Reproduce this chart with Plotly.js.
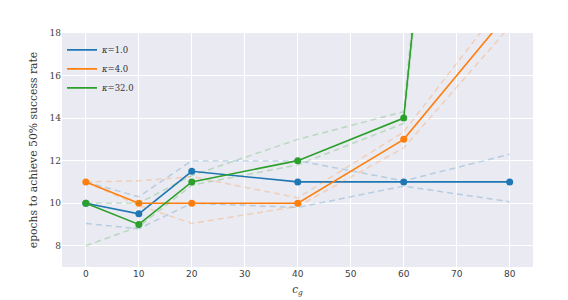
<!DOCTYPE html>
<html>
<head>
<meta charset="utf-8">
<script src="https://cdn.plot.ly/plotly-3.0.1.min.js"></script>
<style>html,body{margin:0;padding:0;background:#fff;}#chart{width:568px;height:300px;}</style>
</head>
<body>
<div id="chart"></div>
<script>
const cg = [0, 10, 20, 40, 60, 80];

const k1Mean  = [10, 9.5, 11.5, 11, 11, 11];
const k1Upper = [11, 10.3, 12, 12, 11.05, 12.3];
const k1Lower = [9.05, 8.8, 10.0, 9.8, 10.8, 10.07];

const k4Mean  = [11, 10, 10, 10, 13, 19];
const k4Upper = [11, 11.05, 11.25, 10.25, 13.35, 19.8];
const k4Lower = [11, 9.9, 9.05, 9.85, 12.6, 18.3];

const k32Mean  = [10, 9, 11, 12, 14, 64];
const k32Upper = [10, 10, 11.3, 13, 14.3, 66];
const k32Lower = [8, 8.9, 10.85, 11.8, 13.75, 62];

const labels = ['<i>κ</i>=1.0', '<i>κ</i>=4.0', '<i>κ</i>=32.0'];
const colors = ['#1f77b4', '#ff7f0e', '#2ca02c'];
const fades  = ['rgba(31,119,180,0.25)', 'rgba(255,127,14,0.25)', 'rgba(44,160,44,0.25)'];

const series = [
  [k1Mean, k1Upper, k1Lower],
  [k4Mean, k4Upper, k4Lower],
  [k32Mean, k32Upper, k32Lower]
];

const traces = [];
series.forEach((s, i) => {
  [s[1], s[2]].forEach(band => {
    traces.push({x: cg, y: band, mode: 'lines', showlegend: false, hoverinfo: 'skip',
      line: {color: fades[i], width: 1.5, dash: '6px,4px'}});
  });
  traces.push({x: cg, y: s[0], mode: 'lines+markers', showlegend: false,
    line: {color: colors[i], width: 1.6},
    marker: {color: colors[i], size: 7}});
});
series.forEach((s, i) => {
  traces.push({x: [null], y: [null], mode: 'lines', name: labels[i],
    line: {color: colors[i], width: 1.6}});
});

const layout = {
  width: 568, height: 300,
  margin: {l: 62, r: 35, t: 33, b: 33, pad: 0},
  paper_bgcolor: '#ffffff',
  plot_bgcolor: '#EAEAF2',
  font: {family: 'DejaVu Serif', size: 9, color: '#404040'},
  xaxis: {
    range: [-4.5, 84.4], tickvals: [0, 10, 20, 30, 40, 50, 60, 70, 80],
    showgrid: true, gridcolor: '#ffffff', gridwidth: 1, zeroline: false, showline: false,
    ticks: '', ticklen: 0, tickfont: {family: 'DejaVu Sans', size: 9, color: '#404040'},
    title: {text: '<i>c</i><sub><i>g</i></sub>', font: {family: 'DejaVu Serif', size: 10.5, color: '#333'}, standoff: 7},
    automargin: false
  },
  yaxis: {
    range: [7, 18], tickvals: [8, 10, 12, 14, 16, 18],
    showgrid: true, gridcolor: '#ffffff', gridwidth: 1, zeroline: false, showline: false,
    ticks: '', ticklen: 0, tickfont: {family: 'DejaVu Serif', size: 9, color: '#404040'},
    title: {text: 'epochs to achieve 50% success rate', font: {family: 'DejaVu Serif', size: 10.8, color: '#333'}, standoff: 9},
    automargin: false
  },
  legend: {
    x: 0.0, y: 0.99, xanchor: 'left', yanchor: 'top',
    bgcolor: 'rgba(0,0,0,0)', borderwidth: 0,
    font: {family: 'DejaVu Serif', size: 8.5, color: '#333'},
    tracegroupgap: 0, itemwidth: 30
  },
  showlegend: true
};

Plotly.newPlot('chart', traces, layout, {staticPlot: true, displayModeBar: false});
</script>
</body>
</html>
